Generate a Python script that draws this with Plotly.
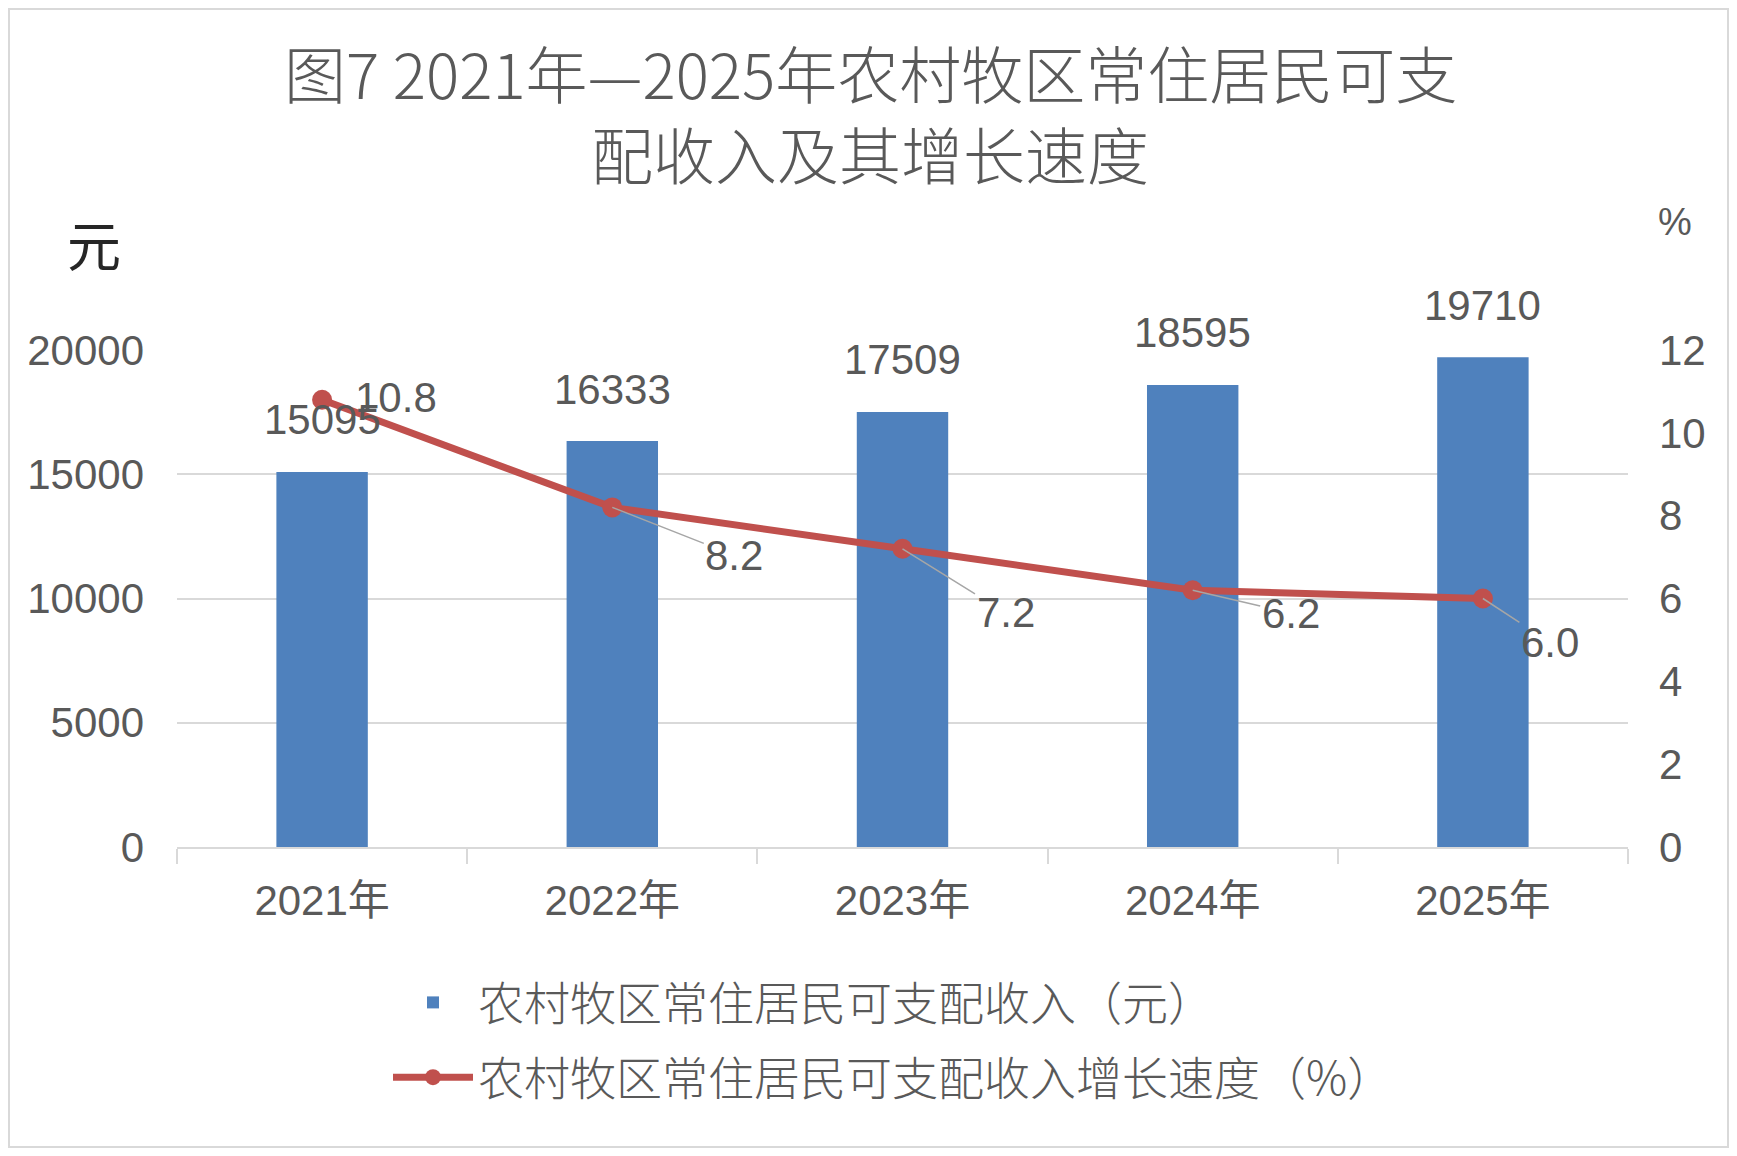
import plotly.graph_objects as go

# chart data
years = ['2021年', '2022年', '2023年', '2024年', '2025年']
income = [15095, 16333, 17509, 18595, 19710]
growth = [10.8, 8.2, 7.2, 6.2, 6.0]
left_ticks = [0, 5000, 10000, 15000, 20000]
right_ticks = [0, 2, 4, 6, 8, 10, 12]

bar_name = '农村牧区常住居民可支配收入（元）'
line_name = '农村牧区常住居民可支配收入增长速度（%）'
title_1 = '图7 2021年—2025年农村牧区常住居民可支'
title_2 = '配收入及其增长速度'

NUM_FONT = 'Liberation Sans, Noto Sans CJK SC'
CJK_FONT = 'Noto Sans CJK SC'
GREY = '#595959'

# page has an 8px body margin, so plot area is placed in page pixels:
# left 177, right 1628, top 350, bottom 847
PL, PR, PT, PB = 177, 1628, 350, 847
W, H = PR - PL, PB - PT


def px(x):
    return (x - PL) / W


def py(y):
    return (PB - y) / H


fig = go.Figure()

fig.add_trace(go.Bar(
    x=years, y=income, name=bar_name, legendgroup='a',
    marker=dict(color='#4F81BD', line=dict(width=0)),
    width=0.315,
))

fig.add_trace(go.Scatter(
    x=years, y=growth, name=line_name, yaxis='y2', legendgroup='b',
    mode='lines+markers',
    line=dict(color='#C0504D', width=7),
    marker=dict(color='#C0504D', size=20),
))

# bar value labels
for yr, v in zip(years, income):
    fig.add_annotation(x=yr, y=v, yref='y', text=str(v), showarrow=False,
                       xanchor='center', yanchor='middle', yshift=52,
                       font=dict(family=NUM_FONT, size=42, color=GREY))

# growth labels with leader lines (offsets in px)
offsets = [(74, -2), (122, 48), (103, 64), (98, 23), (67, 44)]
for i, (yr, g) in enumerate(zip(years, growth)):
    dx, dy = offsets[i]
    if i == 0:
        fig.add_annotation(x=yr, y=g, yref='y2', text=f'{g:.1f}', showarrow=False,
                           xanchor='center', yanchor='middle', xshift=dx, yshift=-dy,
                           font=dict(family=NUM_FONT, size=42, color=GREY))
    else:
        fig.add_annotation(x=yr, y=g, yref='y2', text=f'{g:.1f}',
                           showarrow=True, arrowhead=0, arrowwidth=1.5,
                           arrowcolor='#A6A6A6', ax=dx, ay=dy, standoff=0,
                           font=dict(family=NUM_FONT, size=42, color=GREY))

# title lines
fig.add_annotation(x=px(870), y=py(72), xref='paper', yref='paper', text=title_1,
                   showarrow=False, xanchor='center', yanchor='middle',
                   font=dict(family=CJK_FONT, size=62, weight=300, color=GREY))
fig.add_annotation(x=px(870), y=py(153), xref='paper', yref='paper', text=title_2,
                   showarrow=False, xanchor='center', yanchor='middle',
                   font=dict(family=CJK_FONT, size=62, weight=300, color=GREY))

# axis unit labels
fig.add_annotation(x=px(94), y=py(244), xref='paper', yref='paper', text='元',
                   showarrow=False, xanchor='center', yanchor='middle',
                   font=dict(family=CJK_FONT, size=54, color='#262626'))
fig.add_annotation(x=px(1675), y=py(222), xref='paper', yref='paper', text='%',
                   showarrow=False, xanchor='center', yanchor='middle',
                   font=dict(family=NUM_FONT, size=38, color=GREY))

fig.update_layout(
    width=1721, height=1140,
    margin=dict(l=PL - 8, r=1729 - PR, t=PT - 8, b=1148 - PB),
    paper_bgcolor='white', plot_bgcolor='white',
    bargap=0.5,
    showlegend=True,
    legend=dict(x=px(388), xanchor='left', y=py(966), yanchor='top',
                orientation='v', itemwidth=80, tracegroupgap=12,
                font=dict(family=CJK_FONT, size=46, weight=300, color=GREY)),
    xaxis=dict(type='category', showline=True, linecolor='#D9D9D9', linewidth=2,
               ticks='outside', tickson='boundaries', ticklen=15, tickcolor='#D9D9D9',
               tickwidth=2, ticklabelstandoff=16,
               tickfont=dict(family=NUM_FONT, size=42, color=GREY)),
    yaxis=dict(range=[0, 20000], tickvals=left_ticks, tickformat='d', showgrid=True,
               gridcolor='#D9D9D9', gridwidth=2, zeroline=False, showline=False,
               ticklabelstandoff=32,
               tickfont=dict(family=NUM_FONT, size=42, color=GREY)),
    yaxis2=dict(range=[0, 12], tickvals=right_ticks, overlaying='y', side='right',
                showgrid=False, zeroline=False, showline=False, ticklabelstandoff=30,
                tickfont=dict(family=NUM_FONT, size=42, color=GREY)),
)

# thin border round the image
fig.add_shape(type='rect', xref='paper', yref='paper',
              x0=px(9), x1=px(1728), y0=py(1147), y1=py(9),
              line=dict(color='#D9D9D9', width=2))

fig.write_html('out.html')
